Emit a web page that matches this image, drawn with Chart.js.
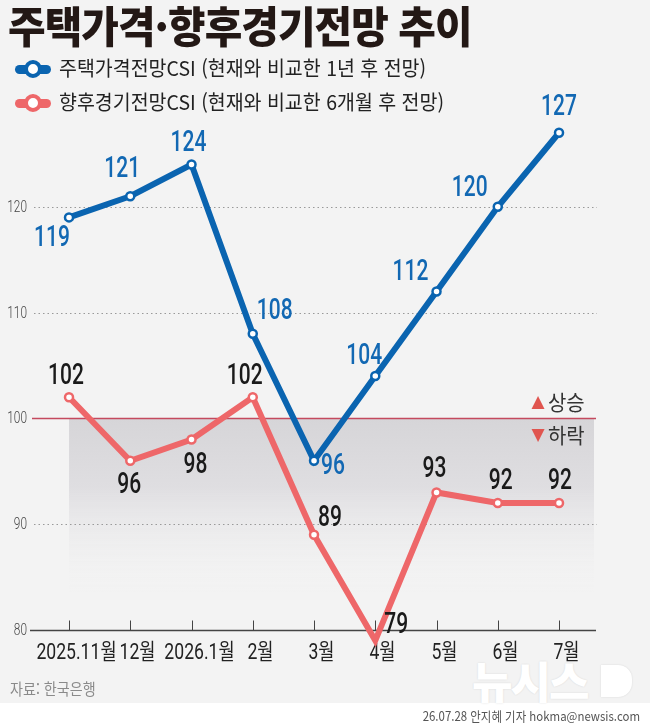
<!DOCTYPE html>
<html lang="ko">
<head>
<meta charset="utf-8">
<script src="https://cdn.jsdelivr.net/npm/chart.js@4.4.1/dist/chart.umd.min.js"></script>
<style>
  body { margin: 0; background: #fff; }
  #wrap { position: relative; width: 650px; height: 726px; background: #f3f3f3; overflow: hidden; font-family: "Noto Sans CJK KR", sans-serif; }
  #foot { position: absolute; left: 0; top: 703px; width: 650px; height: 23px; background: #fff; }
  canvas { position: absolute; left: 0; top: 0; }
  .title { position: absolute; left: 8px; top: 3px; font-size: 43px; line-height: 1; font-weight: 900; letter-spacing: -1px; color: #231815; transform: scaleX(0.95); transform-origin: left top; white-space: nowrap; }
  .leg { position: absolute; left: 0; height: 24px; }
  .leg .bar { position: absolute; left: 15px; top: 8px; width: 36px; height: 9px; border-radius: 5px; }
  .leg .dot { position: absolute; left: 24px; top: 3px; width: 10px; height: 10px; border-radius: 50%; background: #fff; border: 4px solid; }
  .leg .txt { position: absolute; left: 59px; top: -2px; font-size: 20.5px; line-height: 24px; color: #222; white-space: nowrap; transform: scaleX(0.95); transform-origin: left center; }
  .src { position: absolute; left: 10px; top: 676px; font-size: 16px; color: #8a8a8a; transform: scaleX(0.88); transform-origin: left top; white-space: nowrap; }
  .credit { position: absolute; right: 10px; top: 706px; font-size: 13px; color: #555; transform: scaleX(0.88); transform-origin: right top; white-space: nowrap; }
  .mark { position: absolute; left: 472px; top: 654px; font-size: 44px; font-weight: 900; color: #fff; letter-spacing: -2px; white-space: nowrap; line-height: 1.2; text-shadow: 0 0 2px rgba(0,0,0,0.12); }
  .markd { position: absolute; left: 601px; top: 665px; width: 31px; height: 32px; border-radius: 0 14px 14px 0; background: #fff; box-shadow: 0 0 2px rgba(0,0,0,0.12); }
</style>
</head>
<body>
<div id="wrap">
  <div id="foot"></div>
  <div class="mark">뉴시스</div>
  <div class="markd"></div>
  <canvas id="csiChart" width="650" height="726"></canvas>
  <div class="title">주택가격·향후경기전망 추이</div>
  <div class="leg" style="top:57px"><div class="bar" style="background:#0a64b0"></div><div class="dot" style="border-color:#0a64b0"></div><div class="txt">주택가격전망CSI (현재와 비교한 1년 후 전망)</div></div>
  <div class="leg" style="top:91px"><div class="bar" style="background:#ee6769"></div><div class="dot" style="border-color:#ee6769"></div><div class="txt">향후경기전망CSI (현재와 비교한 6개월 후 전망)</div></div>
  <div class="src">자료: 한국은행</div>
  <div class="credit">26.07.28 안지혜 기자 hokma@newsis.com</div>
</div>
<script>
const labels = ["2025.11월", "12월", "2026.1월", "2월", "3월", "4월", "5월", "6월", "7월"];
const housePrice = [119, 121, 124, 108, 96, 104, 112, 120, 127];
const economy = [102, 96, 98, 102, 89, 79, 93, 92, 92];
const yTicks = [80, 90, 100, 110, 120];

const BLUE = "#0a64b0";
const RED = "#ee6769";

// label offsets from each point (px)
const labelOffsets = [
  [[-17, 21], [-8, -27], [-3, -21], [22, -22], [19, 6], [-11, -20], [-26, -19], [-28, -18], [0, -25]],
  [[-3, -21], [-1, 25], [4, 26], [-8, -21], [16, -16], [21, -15], [-2, -23], [3, -22], [1, -22]]
];
const labelColors = ["#1268b3", "#1a1a1a"];

function narrowText(ctx, text, x, y, font, color, sx, align) {
  ctx.save();
  ctx.font = font;
  ctx.fillStyle = color;
  ctx.textAlign = align || "center";
  ctx.textBaseline = "middle";
  ctx.translate(x, y);
  ctx.scale(sx, 1);
  ctx.fillText(text, 0, 0);
  ctx.restore();
}

const backdrop = {
  id: "backdrop",
  beforeDatasetsDraw(chart) {
    const { ctx, chartArea: a, scales: { x, y } } = chart;
    const y100 = y.getPixelForValue(100);
    const yFade = y.getPixelForValue(83.5);
    const x0 = x.getPixelForValue(0);

    // shaded band below 100
    const g = ctx.createLinearGradient(0, y100, 0, yFade);
    g.addColorStop(0, "#d6d5d8");
    g.addColorStop(0.4, "#dfdee1");
    g.addColorStop(1, "rgba(243,243,243,0)");
    ctx.fillStyle = g;
    ctx.fillRect(x0, y100, a.right - 3 - x0, yFade - y100);

    yTicks.forEach((v) => {
      const py = Math.round(y.getPixelForValue(v)) + 0.5;
      ctx.save();
      ctx.beginPath();
      if (v === 80) {
        ctx.strokeStyle = "#444";
        ctx.lineWidth = 1.5;
        ctx.moveTo(a.left, py);
        ctx.lineTo(a.right - 1, py);
      } else if (v === 100) {
        ctx.strokeStyle = "#c4495e";
        ctx.lineWidth = 1.5;
        ctx.moveTo(a.left + 2, py);
        ctx.lineTo(a.right - 1, py);
      } else {
        ctx.setLineDash([1.5, 3]);
        ctx.strokeStyle = "#999";
        ctx.lineWidth = 1;
        ctx.moveTo(a.left + 4, py);
        ctx.lineTo(a.right, py);
      }
      ctx.stroke();
      ctx.restore();
      narrowText(ctx, String(v), a.left - 3, py, "300 16px Roboto", "#444", 0.74, "right");
    });

    // upward ticks + x labels
    const yAxis = Math.round(y.getPixelForValue(80)) + 0.5;
    labels.forEach((lab, i) => {
      const px = Math.round(x.getPixelForValue(i)) + 0.5;
      ctx.save();
      ctx.strokeStyle = "#444";
      ctx.lineWidth = 1;
      ctx.beginPath();
      ctx.moveTo(px, yAxis - 10);
      ctx.lineTo(px, yAxis);
      ctx.stroke();
      ctx.restore();
      narrowText(ctx, lab, px + 7, yAxis + 23, "400 22px Roboto, 'Noto Sans CJK KR'", "#222", 0.8, "center");
    });

    // rise / fall markers
    const lx = a.right - 59;
    narrowText(ctx, "▲", lx, y100 - 16, "17px 'DejaVu Sans'", "#e0554f", 1, "center");
    narrowText(ctx, "상승", lx + 10, y100 - 16, "21px 'Noto Sans CJK KR'", "#333", 0.95, "left");
    narrowText(ctx, "▼", lx, y100 + 17, "17px 'DejaVu Sans'", "#e0554f", 1, "center");
    narrowText(ctx, "하락", lx + 10, y100 + 17, "21px 'Noto Sans CJK KR'", "#333", 0.95, "left");
  },
  afterDatasetsDraw(chart) {
    const { ctx } = chart;
    chart.data.datasets.forEach((ds, di) => {
      chart.getDatasetMeta(di).data.forEach((pt, i) => {
        const [dx, dy] = labelOffsets[di][i];
        narrowText(ctx, String(ds.data[i].y), pt.x + dx, pt.y + dy, "500 30px Roboto", labelColors[di], 0.7, "center");
      });
    });
  }
};

new Chart(document.getElementById("csiChart"), {
  type: "line",
  data: {
    datasets: [
      {
        label: "주택가격전망CSI",
        data: housePrice.map((v, i) => ({ x: i, y: v })),
        borderColor: BLUE,
        borderWidth: 6,
        pointRadius: 4,
        pointBorderWidth: 2.5,
        pointBackgroundColor: "#fff",
        pointBorderColor: BLUE,
        tension: 0,
        clip: false
      },
      {
        label: "향후경기전망CSI",
        data: economy.map((v, i) => ({ x: i, y: v })),
        borderColor: RED,
        borderWidth: 6,
        pointRadius: 4,
        pointBorderWidth: 2.5,
        pointBackgroundColor: "#fff",
        pointBorderColor: RED,
        tension: 0,
        clip: false
      }
    ]
  },
  options: {
    responsive: false,
    animation: false,
    layout: { padding: { top: 101, right: 53, left: 0, bottom: 0 } },
    plugins: { legend: { display: false }, tooltip: { enabled: false } },
    scales: {
      x: {
        type: "linear",
        min: -0.637,
        max: 8.62,
        grid: { display: false },
        border: { display: false },
        ticks: { display: false },
        afterFit: (s) => { s.height = 96; }
      },
      y: {
        min: 80,
        max: 130,
        grid: { display: false },
        border: { display: false },
        ticks: { display: false, stepSize: 10 },
        afterFit: (s) => { s.width = 30; }
      }
    }
  },
  plugins: [backdrop]
});
</script>
</body>
</html>
